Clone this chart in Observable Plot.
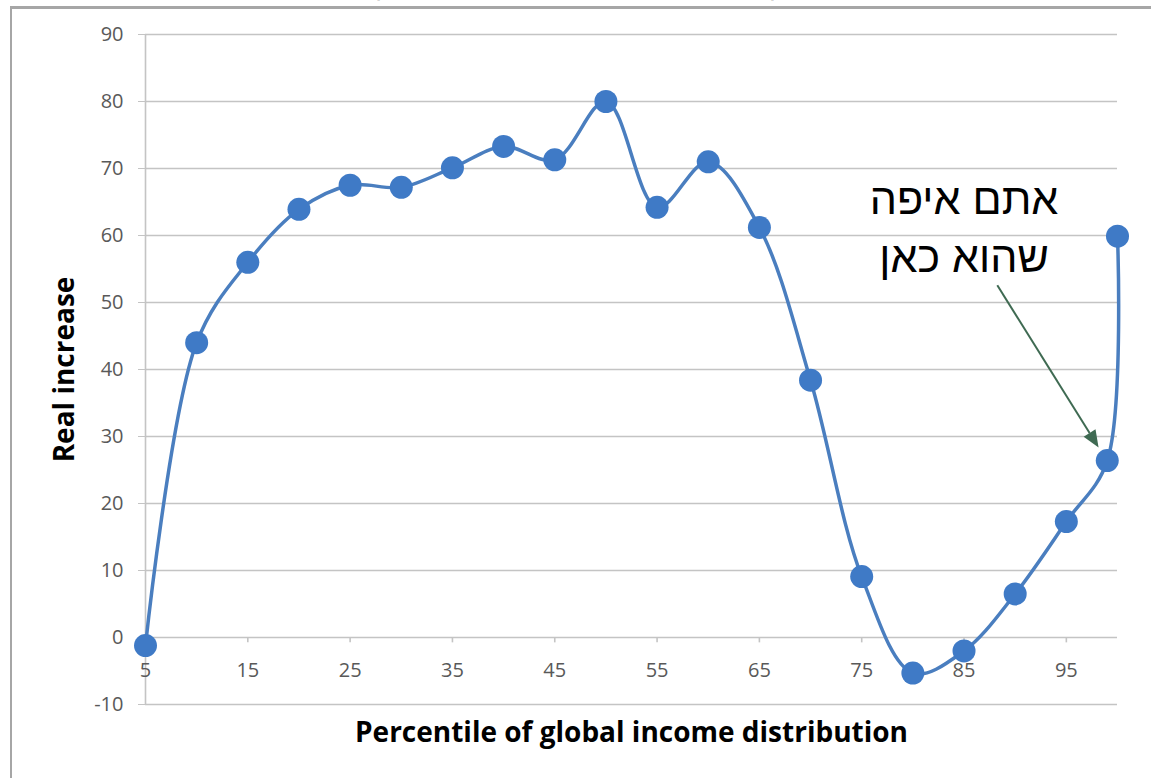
<!DOCTYPE html>
<html>
<head>
<meta charset="utf-8">
<script src="https://cdn.jsdelivr.net/npm/d3@7"></script>
<script src="https://cdn.jsdelivr.net/npm/@observablehq/plot@0.6"></script>
<style>
  html, body { margin: 0; padding: 0; background: #fff; }
  #wrap { position: relative; width: 1151px; height: 778px; overflow: hidden; background: #fff; }
  #border { position: absolute; left: 10px; top: 6px; width: 1200px; height: 800px; border-left: 2px solid #a6a6a6; border-top: 3px solid #a6a6a6; box-sizing: border-box; }
  #title { position: absolute; left: 0; width: 1151px; top: -24px; text-align: center; font: bold 20px "Open Sans", sans-serif; color: #555; white-space: nowrap; }
  #chart { position: absolute; left: 0; top: 0; }
</style>
</head>
<body>
<div id="wrap">
  <div id="title">(calculated in 2005 international dollars)</div>
  <div id="border"></div>
  <div id="chart"></div>
</div>
<script>
const percentiles = [5, 10, 15, 20, 25, 30, 35, 40, 45, 50, 55, 60, 65, 70, 75, 80, 85, 90, 95, 99, 100];
const realIncrease = [-1.2, 44.0, 56.0, 63.9, 67.5, 67.2, 70.1, 73.3, 71.3, 80.0, 64.2, 71.0, 61.2, 38.4, 9.1, -5.3, -2.0, 6.5, 17.3, 26.4, 59.9];
const xTickLabels = [5, 15, 25, 35, 45, 55, 65, 75, 85, 95];
const yTickLabels = [-10, 0, 10, 20, 30, 40, 50, 60, 70, 80, 90];
const xTitle = "Percentile of global income distribution";
const yTitle = "Real increase";
const noteLines = ["אתם איפה", "שהוא כאן"];
const noteY = [65.2, 56.6];
const noteX = 85.0;
const arrowFrom = {x: 88.3, y: 52.5};
const arrowTo = {x: 98.2, y: 28.3};

const data = percentiles.map((p, i) => ({p, v: realIncrease[i]}));
const notes = noteLines.map((t, i) => ({t, x: noteX, y: noteY[i]}));
const arrows = [{x1: arrowFrom.x, y1: arrowFrom.y, x2: arrowTo.x, y2: arrowTo.y}];

const gray = "#c4c4c4";
const tickColor = "#595959";
const font = "'Open Sans', 'Liberation Sans', sans-serif";

function filledArrows(items, {stroke = "#3f6a52", strokeWidth = 2, headLength = 17, headWidth = 7} = {}) {
  return (index, scales) => {
    const g = d3.create("svg:g");
    for (const d of items) {
      const x1 = scales.x(d.x1), y1 = scales.y(d.y1), x2 = scales.x(d.x2), y2 = scales.y(d.y2);
      const a = Math.atan2(y2 - y1, x2 - x1);
      const bx = x2 - headLength * Math.cos(a), by = y2 - headLength * Math.sin(a);
      g.append("line").attr("x1", x1).attr("y1", y1).attr("x2", bx).attr("y2", by)
        .attr("stroke", stroke).attr("stroke-width", strokeWidth);
      const px = -Math.sin(a) * headWidth, py = Math.cos(a) * headWidth;
      g.append("polygon")
        .attr("points", `${x2},${y2} ${bx + px},${by + py} ${bx - px},${by - py}`)
        .attr("fill", stroke);
    }
    return g.node();
  };
}

const chart = Plot.plot({
  width: 1151,
  height: 778,
  marginLeft: 145,
  marginRight: 34,
  marginTop: 34,
  marginBottom: 74,
  style: {background: "transparent", fontFamily: font},
  x: {domain: [5, 100], axis: null},
  y: {domain: [-10, 90]},
  marks: [
    Plot.ruleY(yTickLabels, {stroke: gray, strokeWidth: 1.6}),
    Plot.ruleX([5], {stroke: gray, strokeWidth: 1.6}),
    Plot.axisY({ticks: yTickLabels, tickSize: 7, tickPadding: 15, stroke: gray, fill: tickColor, fontSize: 20, label: null, tickFormat: d => String(d)}),
    Plot.ruleX(xTickLabels.slice(1), {x: d => d, y1: 0, y2: -0.8, stroke: gray, strokeWidth: 1.6}),
    Plot.text(xTickLabels, {x: d => d, y: 0, dy: 33, text: d => String(d), fill: tickColor, fontSize: 20}),
    Plot.line(data, {x: "p", y: "v", curve: "catmull-rom", stroke: "#4a7ebf", strokeWidth: 3.5}),
    Plot.dot(data, {x: "p", y: "v", r: 11.5, fill: "#3f7ac6"}),
    Plot.text(notes, {x: "x", y: "y", text: "t", fontSize: 43, fill: "#000", fontFamily: "'Liberation Sans', 'DejaVu Sans', sans-serif", textAnchor: "middle"}),
    filledArrows(arrows),
    Plot.text([xTitle], {frameAnchor: "bottom", lineAnchor: "middle", dy: 29, fontSize: 28, fontWeight: "bold", fill: "#000"}),
    Plot.text([yTitle], {frameAnchor: "left", textAnchor: "middle", lineAnchor: "middle", dx: -80, rotate: -90, fontSize: 28, fontWeight: "bold", fill: "#000"})
  ]
});
document.getElementById("chart").appendChild(chart);
</script>
</body>
</html>
